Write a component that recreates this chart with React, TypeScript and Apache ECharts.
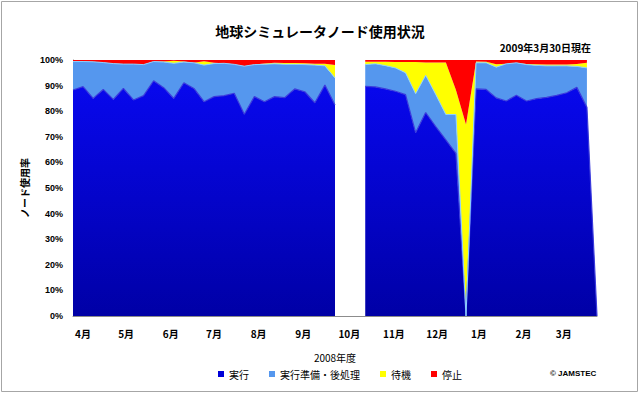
import React, { useEffect, useRef } from "react";
import * as echarts from "echarts";

// Weekly sampling dates (FY2008). Oct 7 / Oct 14 have no data (gap in the chart).
const weekDates = [
  "2008-04-01", "2008-04-08", "2008-04-15", "2008-04-22", "2008-04-29",
  "2008-05-06", "2008-05-13", "2008-05-20", "2008-05-27",
  "2008-06-03", "2008-06-10", "2008-06-17", "2008-06-24",
  "2008-07-01", "2008-07-08", "2008-07-15", "2008-07-22", "2008-07-29",
  "2008-08-05", "2008-08-12", "2008-08-19", "2008-08-26",
  "2008-09-02", "2008-09-09", "2008-09-16", "2008-09-23", "2008-09-30",
  "2008-10-07", "2008-10-14",
  "2008-10-21", "2008-10-28", "2008-11-04", "2008-11-11", "2008-11-18", "2008-11-25",
  "2008-12-02", "2008-12-09", "2008-12-16", "2008-12-23", "2008-12-30",
  "2009-01-06", "2009-01-13", "2009-01-20", "2009-01-27",
  "2009-02-03", "2009-02-10", "2009-02-17", "2009-02-24",
  "2009-03-03", "2009-03-10", "2009-03-17", "2009-03-24", "2009-03-31",
];

// 実行 (%)
const execValues: (number | null)[] = [
  88.3, 89.6, 85.0, 88.5, 84.6, 88.9, 84.4, 86.1, 91.9, 89.2, 85.0, 91.1, 88.9,
  83.7, 85.7, 86.1, 87.0, 78.8, 85.7, 83.7, 85.7, 85.3, 88.7, 87.6, 83.3, 90.2, 82.4,
  null, null,
  89.7, 89.5, 88.7, 87.8, 86.5, 71.6, 79.5, 74.0, 68.8, 63.5, 0,
  88.7, 88.5, 85.2, 84.0, 86.2, 84.0, 84.9, 85.4, 86.2, 87.2, 89.3, 81.5, 0,
];

// 実行準備・後処理 (%)
const prepValues: (number | null)[] = [
  11.1, 9.8, 14.3, 10.5, 14.0, 9.5, 14.0, 12.1, 7.5, 10.0, 13.7, 8.1, 10.0,
  14.3, 12.9, 12.6, 11.3, 18.8, 12.5, 14.6, 12.8, 13.0, 9.6, 10.6, 14.7, 7.5, 10.6,
  null, null,
  8.5, 9.0, 9.1, 9.1, 8.5, 15.2, 14.5, 12.5, 9.9, 15.2, 0,
  10.2, 10.4, 12.0, 14.5, 12.7, 14.2, 13.0, 12.3, 11.5, 10.5, 8.2, 15.4, null,
];

// 待機 (%)
const waitValues: (number | null)[] = [
  0, 0, 0, 0, 0, 0, 0, 0, 0, 0.2, 1.0, 0.2, 0,
  1.5, 0.3, 0, 0, 0, 0, 0.3, 0.4, 0.5, 0.5, 0.5, 0.5, 0.8, 5.0,
  null, null,
  1.1, 0.8, 1.5, 2.3, 4.2, 12.4, 5.0, 12.5, 20.3, 9.6, 74.8,
  0.5, 0.4, 1.1, 0, 0, 0.2, 0.4, 0.5, 0.5, 0.5, 0.9, 2.0, null,
];

// 停止 (%)
const stopValues: (number | null)[] = [
  0.6, 0.6, 0.7, 1.0, 1.4, 1.6, 1.6, 1.8, 0.6, 0.6, 0.3, 0.6, 1.1,
  0.5, 1.1, 1.3, 1.7, 2.4, 1.8, 1.4, 1.1, 1.2, 1.2, 1.3, 1.5, 1.5, 2.0,
  null, null,
  0.7, 0.7, 0.7, 0.8, 0.8, 0.8, 1.0, 1.0, 1.0, 11.7, 25.2,
  0.6, 0.7, 1.7, 1.5, 1.1, 1.6, 1.7, 1.8, 1.8, 1.8, 1.6, 1.1, null,
];

const seriesNames = ["実行", "実行準備・後処理", "待機", "停止"];
const monthStarts = [
  "2008-04-01", "2008-05-01", "2008-06-01", "2008-07-01", "2008-08-01", "2008-09-01",
  "2008-10-01", "2008-11-01", "2008-12-01", "2009-01-01", "2009-02-01", "2009-03-01",
];
const monthLabels = ["4月", "5月", "6月", "7月", "8月", "9月", "10月", "11月", "12月", "1月", "2月", "3月"];

const titleText = "地球シミュレータノード使用状況";
const dateText = "2009年3月30日現在";
const xName = "2008年度";
const yName = "ノード使用率";
const creditText = "© JAMSTEC";

const FIRST_DAY = "2008-04-01";
const LAST_DAY = "2009-03-31";

const toTime = (s: string) => {
  const [y, m, d] = s.split("-").map(Number);
  return new Date(y, m - 1, d).getTime();
};
const toDay = (s: string) => Math.round((toTime(s) - toTime(FIRST_DAY)) / 86400000);

const JP = '"Noto Sans CJK JP", sans-serif';
const LAT = '"Liberation Sans", "Noto Sans CJK JP", sans-serif';

export default function App() {
  const ref = useRef<HTMLDivElement>(null);

  useEffect(() => {
    document.body.style.margin = "0";
    if (!ref.current) return;
    const chart = echarts.init(ref.current, undefined, { renderer: "svg" });
    const monthDays = monthStarts.map(toDay);
    const pts = (vals: (number | null)[]) => weekDates.map((d, i) => [toTime(d), vals[i]]);

    const option: any = {
      animation: false,
      backgroundColor: "#ffffff",
      title: {
        text: titleText,
        left: "center",
        top: 19,
        textStyle: { fontSize: 14, fontWeight: "bold", color: "#000", fontFamily: JP },
      },
      grid: { left: 73, right: 43, top: 60, bottom: 81 },
      legend: {
        data: seriesNames,
        left: 213,
        top: 364,
        icon: "rect",
        itemWidth: 6,
        itemHeight: 6,
        itemGap: 20,
        textStyle: { fontSize: 10, color: "#000", fontFamily: JP },
      },
      xAxis: [
        {
          type: "time",
          min: toTime(FIRST_DAY),
          max: toTime(LAST_DAY),
          axisLine: { show: true, lineStyle: { color: "#8c8c8c", width: 1 } },
          axisTick: { show: false },
          axisLabel: { show: false },
          splitLine: { show: false },
        },
        {
          // label axis: days since April 1, month labels at month starts
          type: "value",
          position: "bottom",
          min: 0,
          max: toDay(LAST_DAY),
          axisLine: { show: false },
          axisTick: { show: false },
          splitLine: { show: false },
          axisLabel: {
            customValues: monthDays,
            formatter: (v: number) => {
              const i = monthDays.indexOf(Math.round(v));
              return i >= 0 ? monthLabels[i] : "";
            },
            align: "left",
            padding: [0, 0, 0, 2],
            margin: 12,
            fontSize: 10,
            fontWeight: "bold",
            color: "#000",
            fontFamily: JP,
          },
          name: xName,
          nameLocation: "middle",
          nameGap: 36,
          nameTextStyle: { fontSize: 10, color: "#000", fontFamily: JP },
        },
      ],
      yAxis: {
        type: "value",
        min: 0,
        max: 100,
        interval: 10,
        axisLine: { show: true, lineStyle: { color: "#8c8c8c", width: 1 } },
        axisTick: { show: false },
        splitLine: { show: false },
        axisLabel: {
          formatter: "{value}%",
          fontSize: 9,
          fontWeight: "bold",
          color: "#000",
          margin: 10,
          fontFamily: LAT,
        },
        name: yName,
        nameLocation: "middle",
        nameRotate: 90,
        nameGap: 40,
        nameTextStyle: { fontSize: 10, fontWeight: "bold", color: "#000", fontFamily: JP },
      },
      series: [
        {
          name: seriesNames[0],
          type: "line",
          stack: "total",
          xAxisIndex: 0,
          data: pts(execValues),
          symbol: "none",
          connectNulls: false,
          itemStyle: { color: "#0000d8" },
          lineStyle: { width: 1.2, color: "#3a3adc" },
          areaStyle: {
            opacity: 1,
            color: new echarts.graphic.LinearGradient(0, 0, 0, 1, [
              { offset: 0, color: "#0808ee" },
              { offset: 1, color: "#0000a6" },
            ]),
          },
        },
        {
          name: seriesNames[1],
          type: "line",
          stack: "total",
          xAxisIndex: 0,
          data: pts(prepValues),
          symbol: "none",
          connectNulls: false,
          itemStyle: { color: "#5597ee" },
          lineStyle: { width: 1, color: "#8cd0ff" },
          areaStyle: { opacity: 1, color: "#5597ee" },
        },
        {
          name: seriesNames[2],
          type: "line",
          stack: "total",
          xAxisIndex: 0,
          data: pts(waitValues),
          symbol: "none",
          connectNulls: false,
          itemStyle: { color: "#ffff00" },
          lineStyle: { width: 0 },
          areaStyle: { opacity: 1, color: "#ffff00" },
        },
        {
          name: seriesNames[3],
          type: "line",
          stack: "total",
          xAxisIndex: 0,
          data: pts(stopValues),
          symbol: "none",
          connectNulls: false,
          itemStyle: { color: "#ff0000" },
          lineStyle: { width: 0 },
          areaStyle: { opacity: 1, color: "#ff0000" },
        },
      ],
      graphic: [
        {
          type: "rect",
          silent: true,
          shape: { x: 1.5, y: 1.5, width: 636, height: 390 },
          style: { fill: "none", stroke: "#a6a6a6", lineWidth: 1 },
        },
        {
          type: "text",
          x: 591,
          y: 47,
          style: {
            text: dateText,
            align: "right",
            verticalAlign: "middle",
            fontSize: 10,
            fontWeight: "bold",
            fontFamily: JP,
            fill: "#000",
          },
        },
        {
          type: "text",
          x: 550,
          y: 373,
          style: {
            text: creditText,
            align: "left",
            verticalAlign: "middle",
            fontSize: 8,
            fontWeight: "bold",
            fontFamily: LAT,
            fill: "#000",
          },
        },
      ],
    };
    chart.setOption(option);
    return () => chart.dispose();
  }, []);

  return <div ref={ref} style={{ width: 640, height: 397 }} />;
}
